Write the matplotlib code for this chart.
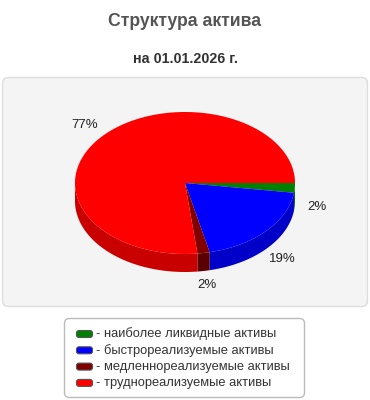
import numpy as np
import matplotlib
matplotlib.use('Agg')
import matplotlib.pyplot as plt
from matplotlib.patches import Polygon, FancyBboxPatch

title = 'Структура актива'
subtitle = 'на 01.01.2026 г.'
labels = ['наиболее ликвидные активы', 'быстрореализуемые активы',
          'медленнореализуемые активы', 'труднореализуемые активы']
values = [2.2, 19.2, 1.8, 76.8]
top_colors = ['#008000', '#0000ff', '#800000', '#ff0000']
side_colors = ['#006400', '#0000c8', '#5a0000', '#c80000']

plt.rcParams['font.family'] = ['Liberation Sans', 'DejaVu Sans']

# pie geometry in pixels
cx, cy, rx, ry, depth = 185, 183, 110, 71, 18


def arc(a0, a1, dy=0):
    t = np.radians(np.linspace(a0, a1, max(2, int(abs(a1 - a0) * 2) + 2)))
    return np.column_stack([cx + rx * np.cos(t), cy + ry * np.sin(t) + dy])


fig = plt.figure(figsize=(3.7, 4.0), dpi=100)
ax = fig.add_axes([0, 0, 1, 1])
ax.set_xlim(0, 370)
ax.set_ylim(400, 0)
ax.axis('off')

# panel behind the pie
ax.add_patch(FancyBboxPatch((2.5, 77.5), 365, 229, boxstyle='round,pad=0,rounding_size=6',
                            fc='#f4f4f4', ec='#dddddd', lw=1))

ax.text(185, 21, title, ha='center', va='center', fontsize=12.7, fontweight='bold', color='#555555')
ax.text(185, 59, subtitle, ha='center', va='center', fontsize=10.3, fontweight='bold', color='#333333')

total = sum(values)
bounds = np.concatenate([[0], np.cumsum(values) / total * 360])

# side walls (front half only)
for i in range(len(values)):
    a0, a1 = max(bounds[i], 0), min(bounds[i + 1], 180)
    if a1 > a0:
        top = arc(a0, a1)
        bot = arc(a0, a1, depth)[::-1]
        ax.add_patch(Polygon(np.vstack([top, bot]), closed=True, fc=side_colors[i], ec='none'))

# top faces
for i in range(len(values)):
    pts = np.vstack([[cx, cy], arc(bounds[i], bounds[i + 1])])
    ax.add_patch(Polygon(pts, closed=True, fc=top_colors[i], ec='none'))

# percentage labels
for i, v in enumerate(values):
    m = np.radians((bounds[i] + bounds[i + 1]) / 2)
    k = 1.2 if np.sin(m) > 0 else 1.22
    x = cx + rx * k * np.cos(m)
    y = cy + ry * k * np.sin(m)
    if np.sin(m) > 0:
        y += depth
    ax.text(x, y, f'{round(v / total * 100)}%', ha='center', va='center', fontsize=9.5, color='#222222')

# legend
ax.add_patch(FancyBboxPatch((64.5, 318.5), 240, 79, boxstyle='round,pad=0,rounding_size=5',
                            fc='white', ec='#bbbbbb', lw=1))
for i, lab in enumerate(labels):
    y = 334 + i * 16.3
    ax.add_patch(FancyBboxPatch((76.5, y - 3.5), 16, 7, boxstyle='round,pad=0,rounding_size=2.5',
                                fc=top_colors[i], ec='#555555', lw=0.8))
    ax.text(96, y, '- ' + lab, ha='left', va='center', fontsize=9.3, color='#333333')

fig.savefig('out.png', dpi=100)
